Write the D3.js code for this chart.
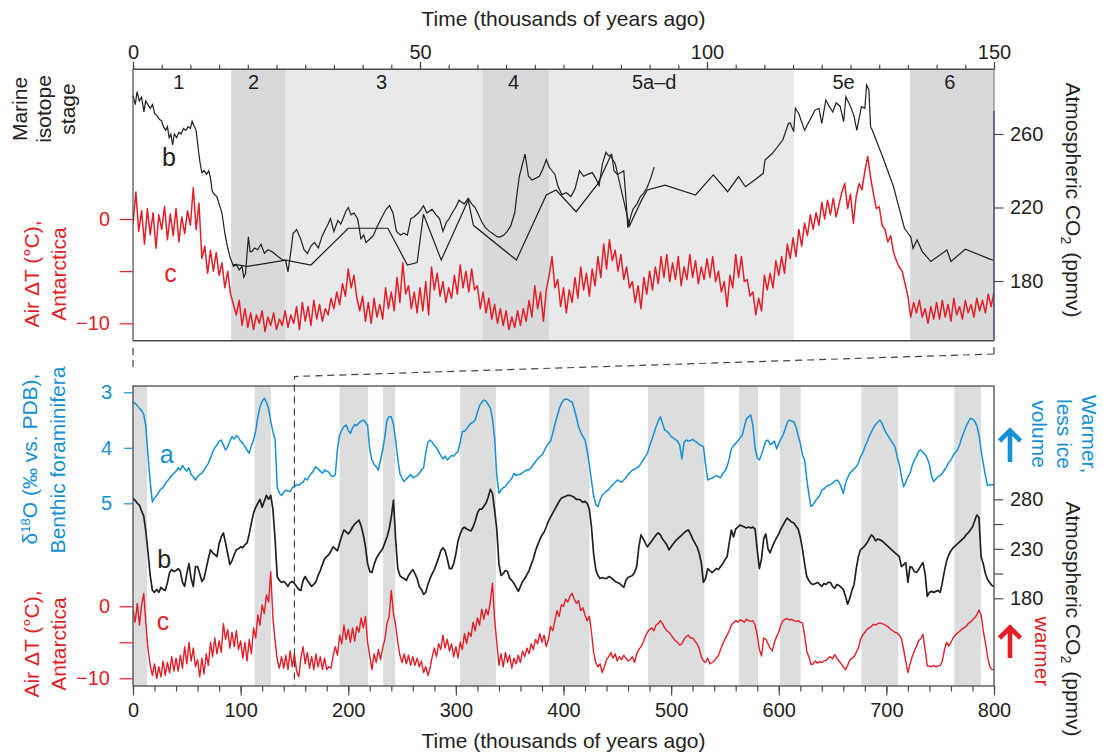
<!DOCTYPE html>
<html>
<head>
<meta charset="utf-8">
<script src="https://cdn.jsdelivr.net/npm/d3@7"></script>
<style>
  body { margin: 0; background: #fff; }
  text { font-family: "Liberation Sans", Arial, Helvetica, sans-serif; }
</style>
</head>
<body>
<div id="chart"></div>
<script>
"use strict";

// ---------- data ----------

// marine isotope stages, top panel (ka)
var stageNames = ["1", "2", "3", "4", "5a\u2013d", "5e", "6"];
var stageEdges = [0, 17.1, 26.6, 60.9, 72.5, 115.1, 135.4, 150];
var stageShade = ["none", "dark", "light", "dark", "light", "none", "dark"];
var stageLabelAge = [8, 21, 43.3, 66.3, 90.8, 123.8, 142.3];

// grey columns, bottom panel (ka)
var warmBands = [[0, 13], [113, 128.2], [191.9, 218.4], [232.4, 243.6], [304, 337.2],
  [386.6, 424.1], [478.5, 530.9], [563, 580.7], [601.2, 620.4], [676.8, 711], [763.1, 787.9]];

// top panel, c: Antarctic air temperature, every 0.5 ka from 0 to 150 ka
var tempRecentStep = 0.5;
var tempRecent = [
  -0.5, 2.6, -1.2, 0.8, -2.4, 1.0, -1.5, 0.6, -2.8, 0.4, -1.0, 1.2, -2.0, 0.5, -1.6, 1.0, -2.2, 0.2, -1.4, 0.8,
  -0.6, 3.0, -1.0, 1.5, -3.8, -2.6, -5.2, -3.0, -5.0, -3.2, -5.4, -4.2, -6.6, -5.0, -7.2, -8.2, -9.2, -7.8, -10.2, -8.6,
  -10.4, -9.0, -10.6, -9.2, -10.0, -8.8, -10.8, -9.4, -10.2, -9.0, -10.6, -9.6, -10.2, -8.8, -10.4, -9.2, -10.0, -8.4, -10.6, -8.0,
  -9.8, -8.4, -10.2, -7.8, -9.6, -8.2, -9.8, -8.6, -9.2, -7.6, -8.6, -7.0, -8.2, -6.2, -7.4, -4.8, -6.6, -5.4, -7.6, -8.8,
  -7.4, -9.8, -8.0, -10.0, -7.6, -9.4, -8.2, -9.6, -6.6, -8.6, -7.0, -8.8, -5.6, -8.0, -4.2, -7.2, -6.4, -8.6, -7.0, -9.0,
  -6.6, -8.8, -6.0, -9.2, -4.6, -6.8, -5.2, -7.4, -6.0, -8.0, -6.6, -7.6, -5.4, -7.2, -4.4, -6.6, -5.0, -7.0, -4.8, -6.8,
  -6.4, -8.6, -7.0, -9.0, -7.6, -9.6, -8.2, -10.0, -8.6, -10.2, -8.8, -10.6, -9.4, -10.4, -8.8, -10.2, -8.6, -9.8, -7.8, -9.4,
  -6.4, -8.6, -7.0, -9.8, -6.8, -5.4, -3.6, -6.6, -5.8, -8.4, -6.6, -9.0, -6.8, -8.0, -5.6, -7.6, -4.6, -6.8, -5.2, -7.4,
  -4.8, -6.4, -3.6, -5.6, -2.4, -4.8, -2.0, -4.0, -3.0, -5.0, -3.4, -5.8, -4.6, -6.6, -6.0, -8.0, -6.4, -8.6, -5.6, -7.2,
  -5.0, -6.8, -4.6, -6.2, -3.6, -5.6, -3.4, -6.0, -4.2, -5.8, -3.6, -6.4, -4.6, -5.8, -3.4, -5.6, -4.0, -6.2, -4.6, -5.8,
  -3.8, -5.6, -3.6, -6.0, -5.0, -7.0, -6.0, -8.4, -5.4, -6.6, -3.4, -5.6, -3.6, -6.0, -5.8, -7.4, -7.0, -9.2, -7.6, -8.8,
  -5.4, -6.8, -5.2, -6.6, -4.0, -5.4, -3.6, -5.2, -2.4, -3.8, -1.8, -3.6, -1.0, -2.6, -0.4, -1.6, 0.4, -1.0, 0.6, -0.6,
  1.6, 0.0, 1.8, 0.4, 2.0, 0.2, 1.4, 2.6, 3.4, 1.0, 2.4, -0.4, 2.2, 3.4, 2.8, 4.6, 6.0, 4.0, 2.4, 1.0,
  1.2, -0.6, -1.0, -2.2, -1.6, -3.2, -4.0, -4.6, -5.0, -6.2, -7.4, -9.4, -8.0, -9.0, -7.8, -9.4, -8.6, -10.0, -8.4, -9.6,
  -8.0, -9.6, -7.8, -9.4, -8.2, -9.8, -7.6, -9.2, -8.4, -9.6, -7.8, -9.0, -8.2, -9.4, -7.6, -8.8, -7.8, -9.0, -7.2, -8.4,
  -7.0
];

// top panel, b: CO2, detailed record [ka, ppmv]
var co2Detailed = [
  [0,281],[0.4,276],[0.7,283],[1.1,278],[1.5,280],[1.9,272],[2.2,278],[2.6,276],[3.0,274],[3.4,276],
  [3.8,271],[4.2,270],[4.6,268],[5.0,267],[5.3,264],[5.7,262],[6.0,264],[6.3,258],[6.6,260],[6.9,254],
  [7.2,260],[7.6,258],[8.0,261],[8.4,260],[8.8,263],[9.2,262],[9.6,264],[10.0,263],[10.3,267],[10.7,264],
  [11.0,262],[11.4,251],[11.7,244],[12.0,239],[12.4,240],[12.8,238],[13.2,240],[13.5,236],[13.8,229],[14.2,227],
  [14.6,226],[15.0,222],[15.5,217],[16.0,206],[16.5,198],[16.9,193],[17.5,188],[18.0,189],[18.5,186],[19.0,188],
  [19.3,182],[19.6,184],[20.1,204],[20.4,196],[20.7,196],[21.2,198],[21.7,197],[22.3,200],[22.9,195],[23.5,197],
  [24.2,196],[25.0,194],[25.8,192],[26.6,191],[27.0,185],[27.5,196],[27.9,206],[28.5,208],[29.2,203],[29.8,197],
  [30.4,195],[31.0,199],[31.6,201],[32.3,198],[32.9,204],[33.5,208],[34.0,211],[34.4,214],[35.0,207],[35.7,213],
  [36.2,211],[36.6,214],[37.1,218],[37.5,220],[38.0,216],[38.5,217],[39.1,214],[39.4,209],[39.7,203],[40.2,205],
  [40.6,201],[41.3,203],[41.9,205],[42.6,210],[43.4,215],[44.1,219],[44.7,221],[45.3,217],[45.9,207],[46.6,205],
  [47.2,206],[47.8,205],[48.4,214],[49.0,215],[49.7,217],[50.2,219],[50.6,221],[51.2,217],[52.1,219],[52.8,216],
  [53.4,214],[54.0,207],[54.6,212],[55.1,214],[55.6,217],[56.2,220],[56.8,224],[57.2,223],[57.7,222],[58.4,225],
  [59.0,222],[59.6,220],[60.2,216],[60.8,212],[61.4,209],[62.1,207],[62.6,206],[63.0,205],[63.5,204],[64.0,204],
  [64.6,205],[65.2,207],[65.8,210],[66.5,217],[66.8,225],[67.3,237],[67.8,243],[68.3,249],[68.6,243],[68.9,237],
  [69.5,235],[70.2,236],[70.8,237],[71.4,241],[72.0,246],[72.5,242],[73.0,240],[73.5,238],[74.0,232],[74.7,227],
  [75.5,228],[76.3,226],[77.0,230],[77.8,240],[78.5,237],[79.2,238],[80.0,239],[80.6,236],[81.2,232],[81.8,244],
  [82.4,250],[82.9,248],[83.4,249],[83.8,240],[84.4,238],[85.0,239],[85.5,240],[85.9,224],[86.2,209],[86.7,215],
  [87.1,219],[87.8,222],[88.4,226],[89.0,228],[89.6,231],[90.2,236],[90.8,242]
];

// top panel, b: CO2, coarse record [ka, ppmv]
var co2Coarse = [
  [17.5,189],[20,188],[26.6,191.4],[31,188.7],[37.5,208.7],[44.4,208.7],[47.8,188.7],[49.5,190],
  [50.6,216.3],[53.7,191.4],[58.4,224],[59.3,210.3],[66.8,191.4],[72,226.8],[73.7,229.5],[77.2,217.7],
  [81,233],[83.2,248],[84,244],[86.5,210],[88.6,224],[89.6,229.5],[92.7,232.2],[98,226.8],[101.1,237.7],
  [103.6,228.6],[105.5,236.8],[106.7,231.3],[108.3,235],[109.8,238.6],[110.1,245.8],[111.4,249.5],
  [113.2,256.7],[114.2,265.8],[114.5,266],[115.1,261.3],[115.4,274],[116,271],[117,262],[118.8,273],
  [119.5,274],[120,265.8],[120.7,278.5],[121.3,275],[121.9,272],[122.5,277],[123.2,275],[123.8,266.7],
  [124.2,280.3],[125,275],[125.6,270],[126.1,262],[126.9,274.9],[127.5,274],[127.8,286.7],[128.2,284],
  [128.5,264],[128.8,262],[130.6,247.6],[132.5,231.3],[133.1,224],[134.4,208.7],[135.5,204],[135.9,197.8],
  [136.6,202.3],[137.5,196],[139,190.6],[141.8,196.9],[142.5,190.6],[145,197.3],[149.4,191.8],[150,191]
];

// bottom panel series, every 2 ka from 0 to 800 ka
var longStep = 2;

// a: benthic d18O (per mil)
var d18O = [
  3.17, 3.20, 3.24, 3.29, 3.33, 3.40, 3.62, 4.15, 4.62, 4.98,
  4.90, 4.86, 4.80, 4.74, 4.72, 4.64, 4.60, 4.55, 4.50, 4.46,
  4.42, 4.36, 4.40, 4.32, 4.38, 4.42, 4.36, 4.48, 4.52, 4.58,
  4.52, 4.48, 4.46, 4.40, 4.34, 4.28, 4.18, 4.08, 4.00, 3.95,
  3.88, 3.86, 3.95, 4.04, 3.98, 3.88, 3.80, 3.84, 3.78, 3.82,
  3.88, 3.92, 3.98, 4.04, 4.10, 3.96, 3.86, 3.70, 3.44, 3.26,
  3.16, 3.11, 3.18, 3.30, 3.52, 3.71, 3.84, 4.70, 4.82, 4.86,
  4.80, 4.76, 4.78, 4.79, 4.72, 4.70, 4.66, 4.68, 4.64, 4.62,
  4.55, 4.58, 4.50, 4.46, 4.40, 4.34, 4.38, 4.42, 4.46, 4.40,
  4.42, 4.44, 4.50, 4.52, 4.48, 4.02, 3.77, 3.68, 3.62, 3.59,
  3.68, 3.74, 3.64, 3.58, 3.60, 3.55, 3.52, 3.50, 3.54, 3.60,
  4.04, 4.22, 4.30, 4.34, 4.40, 4.22, 4.04, 3.80, 3.50, 3.44,
  3.44, 3.58, 3.86, 4.20, 4.46, 4.55, 4.61, 4.56, 4.52, 4.48,
  4.54, 4.52, 4.50, 4.46, 4.40, 4.36, 4.10, 3.90, 3.86, 3.90,
  3.96, 4.00, 4.07, 4.14, 4.20, 4.15, 4.22, 4.18, 4.14, 4.15,
  4.10, 4.07, 3.90, 3.71, 3.70, 3.66, 3.60, 3.56, 3.54, 3.50,
  3.36, 3.24, 3.18, 3.14, 3.16, 3.22, 3.28, 3.48, 3.82, 4.50,
  4.82, 4.76, 4.72, 4.70, 4.64, 4.60, 4.55, 4.46, 4.50, 4.48,
  4.48, 4.45, 4.42, 4.40, 4.40, 4.36, 4.30, 4.25, 4.20, 4.16,
  4.13, 4.06, 3.98, 3.92, 3.88, 3.74, 3.58, 3.44, 3.30, 3.20,
  3.14, 3.12, 3.13, 3.16, 3.17, 3.30, 3.45, 3.62, 3.72, 3.80,
  3.86, 4.05, 4.30, 4.60, 4.86, 5.02, 5.06, 4.94, 4.85, 4.82,
  4.78, 4.75, 4.70, 4.66, 4.62, 4.58, 4.60, 4.62, 4.58, 4.54,
  4.48, 4.44, 4.40, 4.39, 4.36, 4.34, 4.28, 4.22, 4.16, 4.10,
  3.96, 3.86, 3.74, 3.62, 3.52, 3.44, 3.56, 3.68, 3.70, 3.74,
  3.80, 3.82, 3.85, 3.88, 3.95, 4.20, 3.90, 3.86, 3.88, 3.87,
  3.85, 3.88, 3.90, 3.94, 3.96, 3.98, 4.30, 4.58, 4.56, 4.55,
  4.52, 4.50, 4.52, 4.54, 4.46, 4.42, 4.34, 4.20, 4.02, 3.96,
  3.92, 3.88, 3.82, 3.78, 3.62, 3.48, 3.44, 3.41, 3.60, 4.00,
  4.18, 4.22, 4.12, 4.00, 3.88, 3.86, 3.94, 3.92, 3.88, 4.02,
  3.92, 3.84, 3.77, 3.66, 3.54, 3.50, 3.52, 3.53, 3.62, 3.78,
  3.92, 4.12, 4.22, 4.55, 4.85, 5.06, 5.02, 4.96, 4.91, 4.86,
  4.76, 4.74, 4.70, 4.68, 4.66, 4.64, 4.60, 4.58, 4.62, 4.70,
  4.82, 4.64, 4.54, 4.46, 4.42, 4.38, 4.34, 4.28, 4.16, 4.10,
  3.98, 3.90, 3.80, 3.72, 3.64, 3.58, 3.54, 3.50, 3.56, 3.66,
  3.74, 3.80, 3.86, 3.92, 3.98, 4.16, 4.30, 4.52, 4.70, 4.62,
  4.52, 4.46, 4.32, 4.22, 4.16, 4.06, 4.04, 4.08, 4.12, 4.19,
  4.30, 4.52, 4.61, 4.56, 4.52, 4.50, 4.46, 4.40, 4.34, 4.26,
  4.22, 4.14, 4.08, 4.04, 3.95, 3.82, 3.72, 3.62, 3.54, 3.47,
  3.48, 3.52, 3.60, 3.76, 4.04, 4.28, 4.50, 4.68, 4.67, 4.66,
  4.67
];

// b: atmospheric CO2 (ppmv)
var co2Long = [
  281, 279, 276, 274, 268, 263, 247, 226, 203, 188,
  186, 189, 186, 191, 189, 188, 196, 206, 209, 207,
  208, 210, 207, 196, 192, 205, 215, 200, 192, 212,
  212, 205, 197, 200, 210, 220, 229, 226, 224, 222,
  235, 242, 246, 236, 225, 214, 218, 224, 229, 230,
  232, 231, 234, 236, 245, 256, 266, 272, 276, 280,
  272, 278, 284, 280, 284, 270, 240, 202, 198, 196,
  197, 195, 192, 196, 197, 195, 192, 189, 188, 198,
  202, 198, 195, 192, 194, 197, 203, 208, 214, 220,
  222, 224, 228, 232, 230, 228, 236, 243, 249, 247,
  245, 248, 252, 255, 257, 259, 253, 244, 232, 215,
  207, 206, 214, 220, 224, 227, 230, 236, 242, 250,
  262, 279, 240, 210, 203, 201, 200, 198, 203, 206,
  209, 205, 200, 192, 189, 184, 186, 194, 200, 205,
  209, 215, 221, 228, 231, 228, 220, 210, 210, 215,
  225, 238, 245, 250, 252, 250, 249, 248, 252, 258,
  266, 270, 270, 273, 276, 282, 290, 286, 269, 250,
  215, 203, 205, 208, 207, 200, 198, 195, 191, 187,
  192, 197, 200, 204, 208, 214, 220, 228, 234, 239,
  244, 247, 252, 258, 262, 266, 270, 274, 278, 281,
  282, 283, 284, 284, 283, 282, 280, 280, 279, 277,
  278, 276, 270, 252, 225, 209, 203, 200, 201, 200,
  200, 202, 201, 199, 197, 196, 195, 193, 191, 198,
  201, 202, 203, 206, 212, 232, 244, 240, 236, 232,
  235, 238, 241, 244, 246, 244, 240, 237, 234, 229,
  232, 235, 238, 240, 242, 244, 246, 248, 249, 245,
  240, 236, 232, 226, 216, 196, 200, 210, 208, 206,
  208, 210, 209, 212, 215, 219, 222, 236, 249, 242,
  250, 252, 254, 253, 252, 251, 252, 251, 252, 250,
  229, 210, 220, 240, 245, 230, 226, 232, 237, 241,
  245, 250, 254, 258, 261, 259, 257, 256, 253, 250,
  242, 230, 215, 202, 198, 195, 194, 195, 196, 194,
  192, 195, 194, 196, 196, 192, 190, 194, 193, 191,
  189, 182, 174, 180, 188, 194, 210, 222, 229, 231,
  233, 236, 240, 244, 242, 238, 240, 239, 238, 236,
  234, 232, 230, 228, 226, 224, 222, 212, 214, 216,
  196, 212, 211, 207, 206, 209, 213, 216, 205, 182,
  186, 187, 186, 187, 188, 186, 196, 208, 218, 224,
  228, 231, 233, 235, 237, 239, 241, 244, 246, 249,
  252, 258, 264, 262, 222, 215, 205, 199, 196, 193,
  192
];

// c: Antarctic air temperature (deg C)
var tempLong = [
  -0.5, -2.2, 0.4, -2.6, 0.2, 1.8, -2.5, -6.0, -8.2, -9.6,
  -8.0, -10.0, -8.4, -9.8, -7.6, -9.6, -7.8, -9.2, -7.0, -9.0,
  -7.2, -9.0, -6.8, -8.6, -5.6, -8.0, -5.0, -7.6, -5.8, -8.4,
  -7.4, -9.8, -7.2, -9.4, -6.6, -8.2, -5.0, -7.0, -4.4, -6.6,
  -4.8, -6.4, -2.4, -4.6, -3.2, -5.8, -3.6, -5.6, -3.4, -6.0,
  -4.8, -7.2, -5.0, -7.6, -4.6, -6.6, -3.0, -4.4, -1.2, -2.6,
  0.2, -1.0, 1.6, 0.6, 4.8, -1.6, -4.8, -7.4, -8.6, -7.0,
  -8.6, -6.8, -8.8, -6.2, -8.4, -6.6, -9.0, -9.8, -7.2, -5.6,
  -8.0, -6.4, -8.6, -7.0, -8.8, -6.6, -8.4, -7.0, -8.8, -7.2,
  -8.8, -8.4, -8.6, -6.8, -5.6, -6.8, -4.0, -5.2, -2.6, -4.6,
  -3.2, -5.0, -3.0, -4.8, -2.8, -3.6, -1.6, -3.0, -1.4, -5.0,
  -6.9, -8.8, -6.6, -7.8, -6.0, -7.4, -5.8, -4.6, -2.4, -1.4,
  2.2, -1.0, -2.6, -5.0, -6.8, -7.8, -6.6, -8.0, -6.8, -8.2,
  -7.0, -8.2, -7.2, -8.4, -7.6, -9.2, -8.4, -9.6, -8.6, -7.0,
  -5.8, -7.0, -5.2, -6.0, -4.0, -5.8, -4.6, -6.2, -5.2, -7.0,
  -5.6, -7.2, -5.0, -6.0, -3.8, -5.2, -3.6, -4.2, -2.2, -3.4,
  -1.6, -2.6, -0.4, -1.8, -0.4, -1.2, 0.6, 3.2, -1.8, -5.0,
  -8.2, -6.6, -8.4, -6.4, -7.8, -6.8, -8.6, -7.2, -8.0, -6.8,
  -7.8, -6.2, -7.0, -5.8, -6.6, -5.2, -6.0, -4.6, -5.2, -3.8,
  -5.0, -4.0, -5.6, -4.6, -2.8, -3.4, -2.0, -0.6, -1.4, 0.2,
  0.0, 1.0, 0.6, 1.4, 1.8, 1.0, 0.4, 0.8, -0.6, -0.2,
  -1.2, -2.0, -1.4, -3.6, -6.4, -7.8, -8.4, -8.0, -9.2, -8.4,
  -7.4, -7.0, -6.4, -7.2, -6.6, -7.6, -7.0, -7.4, -6.8, -7.2,
  -7.6, -7.4, -7.0, -7.8, -6.6, -6.0, -5.6, -5.0, -4.2, -3.6,
  -3.2, -3.0, -3.4, -2.6, -2.4, -2.0, -2.4, -3.0, -3.4, -3.6,
  -4.0, -4.4, -4.8, -5.0, -5.4, -5.2, -4.6, -4.2, -4.0, -4.4,
  -4.4, -4.8, -5.2, -5.8, -7.0, -7.6, -7.8, -7.2, -8.0, -7.8,
  -7.6, -7.2, -6.8, -6.0, -5.2, -4.6, -4.0, -3.4, -2.6, -2.3,
  -2.0, -2.2, -1.9, -2.0, -2.2, -1.8, -2.0, -2.1, -2.0, -2.6,
  -4.0, -6.0, -6.9, -4.4, -4.6, -5.2, -5.8, -6.2, -5.0, -4.2,
  -3.6, -2.6, -2.0, -1.8, -1.7, -1.9, -1.8, -2.0, -2.1, -2.0,
  -2.2, -2.3, -4.0, -6.2, -7.0, -8.1, -8.0, -7.6, -7.9, -7.7,
  -7.8, -7.6, -7.5, -7.2, -7.0, -7.3, -6.7, -7.2, -7.6, -8.0,
  -8.4, -8.8, -8.2, -7.5, -7.2, -7.0, -6.4, -5.8, -4.6, -4.0,
  -3.6, -3.2, -3.0, -2.8, -2.5, -2.6, -2.4, -2.3, -2.4, -2.5,
  -2.7, -2.9, -3.2, -3.4, -3.6, -3.7, -4.0, -4.5, -6.0, -7.6,
  -9.2, -8.0, -7.0, -6.2, -5.5, -4.8, -4.5, -3.9, -6.0, -8.3,
  -8.3, -8.4, -8.2, -8.4, -8.3, -8.2, -7.6, -6.0, -5.0, -5.5,
  -5.0, -4.4, -4.0, -3.7, -3.5, -3.2, -3.0, -2.8, -2.4, -2.2,
  -1.9, -1.6, -1.2, -0.5, -1.2, -3.4, -5.0, -7.0, -8.3, -8.8,
  -8.8
];

// axis ticks
var timeTopMajor = [0, 50, 100, 150];
var timeBotMajor = [0, 100, 200, 300, 400, 500, 600, 700, 800];
var tempTicks = [0, -5, -10];
var tempTickLabels = [0, -10];
var co2TopTicks = [260, 220, 180];
var d18OTicks = [3, 4, 5];
var co2BotTicks = [280, 255, 230, 205, 180];
var co2BotLabels = [280, 230, 180];

// ---------- drawing ----------
var W = 1103, H = 756;
var red = "#e31e26", blue = "#1690d3", ink = "#231f20", axisGrey = "#4a4a4a";
var darkBand = "#d8d9db", lightBand = "#e8e9eb", bandBot = "#dcdddf";
var titleSize = 21;

var svg = d3.select("#chart").append("svg")
  .attr("width", W).attr("height", H)
  .style("display", "block");

var x0 = 133, x1 = 994;
var topY0 = 69.3, topY1 = 340.7;
var botY0 = 386, botY1 = 686;

// scales
var xTop = d3.scaleLinear().domain([0, 150]).range([x0, x1]);
var xBot = d3.scaleLinear().domain([0, 800]).range([x0, x1]);
var yTempTop = d3.scaleLinear().domain([-10, 0]).range([323.3, 219]);
var yCo2Top = d3.scaleLinear().domain([180, 260]).range([281, 134]);
var yD18O = d3.scaleLinear().domain([3, 5]).range([392.3, 503.3]);
var yCo2Bot = d3.scaleLinear().domain([180, 280]).range([598.3, 499.3]);
var yTempBot = d3.scaleLinear().domain([-10, 0]).range([678.3, 606.3]);

function fixAxis(g, color, size) {
  g.select(".domain").remove();
  g.selectAll(".tick line").attr("stroke", color).attr("stroke-width", 1.2);
  g.selectAll(".tick text").attr("fill", color).attr("font-size", size || 20)
    .attr("font-family", "Liberation Sans, Arial, sans-serif");
}

// ---- top panel ----
var topG = svg.append("g");

topG.selectAll("rect.stage")
  .data(stageNames)
  .enter().append("rect")
  .attr("x", function(d, i) { return xTop(stageEdges[i]); })
  .attr("width", function(d, i) { return xTop(stageEdges[i + 1]) - xTop(stageEdges[i]); })
  .attr("y", topY0).attr("height", topY1 - topY0)
  .attr("fill", function(d, i) {
    return stageShade[i] === "dark" ? darkBand : stageShade[i] === "light" ? lightBand : "none";
  });

topG.selectAll("text.stage")
  .data(stageNames)
  .enter().append("text")
  .attr("x", function(d, i) { return xTop(stageLabelAge[i]); })
  .attr("y", 89.3)
  .attr("text-anchor", "middle")
  .attr("font-size", 20).attr("fill", ink)
  .text(function(d) { return d; });

svg.append("clipPath").attr("id", "clipTop").append("rect")
  .attr("x", x0).attr("y", topY0).attr("width", x1 - x0).attr("height", topY1 - topY0);

var lineTempTop = d3.line()
  .x(function(d, i) { return xTop(i * tempRecentStep); })
  .y(function(d) { return yTempTop(d); });
var lineCo2Top = d3.line()
  .x(function(d) { return xTop(d[0]); })
  .y(function(d) { return yCo2Top(d[1]); });

topG.append("path").datum(tempRecent)
  .attr("d", lineTempTop).attr("fill", "none")
  .attr("stroke", red).attr("stroke-width", 1.5).attr("stroke-linejoin", "round")
  .attr("clip-path", "url(#clipTop)");
topG.append("path").datum(co2Coarse)
  .attr("d", lineCo2Top).attr("fill", "none")
  .attr("stroke", ink).attr("stroke-width", 1.2);
topG.append("path").datum(co2Detailed)
  .attr("d", lineCo2Top).attr("fill", "none")
  .attr("stroke", ink).attr("stroke-width", 1.2);

// top frame
topG.append("line").attr("x1", x0).attr("x2", x1).attr("y1", topY0).attr("y2", topY0)
  .attr("stroke", axisGrey).attr("stroke-width", 1.4);
topG.append("line").attr("x1", x0).attr("x2", x1).attr("y1", topY1).attr("y2", topY1)
  .attr("stroke", axisGrey).attr("stroke-width", 1.4);
topG.append("line").attr("x1", x0).attr("x2", x0).attr("y1", topY0).attr("y2", topY1)
  .attr("stroke", axisGrey).attr("stroke-width", 1.2);
topG.append("line").attr("x1", x1).attr("x2", x1).attr("y1", topY0).attr("y2", topY1)
  .attr("stroke", "#888").attr("stroke-width", 1.2);
topG.append("line").attr("x1", x1).attr("x2", x1).attr("y1", 111).attr("y2", topY1)
  .attr("stroke", "#33417a").attr("stroke-width", 1.2);

// top time axis
var gTopMinor = svg.append("g").attr("transform", "translate(0," + topY0 + ")")
  .call(d3.axisTop(xTop).tickValues(d3.range(0, 151, 5)).tickSize(4.5).tickFormat(""));
fixAxis(gTopMinor, axisGrey);
var gTopMajor = svg.append("g").attr("transform", "translate(0," + topY0 + ")")
  .call(d3.axisTop(xTop).tickValues(timeTopMajor).tickSize(7.5).tickPadding(3));
fixAxis(gTopMajor, ink);
gTopMajor.selectAll(".tick line").attr("stroke", axisGrey);
gTopMajor.selectAll(".tick text").attr("y", -10.3).attr("dy", 0);

// top left temperature axis
var gTempTop = svg.append("g").attr("transform", "translate(" + x0 + ",0)")
  .call(d3.axisLeft(yTempTop).tickValues(tempTicks).tickSize(13.5).tickPadding(9.5)
    .tickFormat(function(d) { return tempTickLabels.indexOf(d) >= 0 ? d3.format("d")(d) : ""; }));
fixAxis(gTempTop, red);

// top right CO2 axis
var gCo2Top = svg.append("g").attr("transform", "translate(" + x1 + ",0)")
  .call(d3.axisRight(yCo2Top).tickValues(co2TopTicks).tickSize(9.3).tickPadding(6.7));
fixAxis(gCo2Top, ink);
gCo2Top.selectAll(".tick line").attr("stroke", axisGrey);

// ---- bottom panel ----
var botG = svg.append("g");

botG.selectAll("rect.band")
  .data(warmBands)
  .enter().append("rect")
  .attr("x", function(d) { return xBot(d[0]); })
  .attr("width", function(d) { return xBot(d[1]) - xBot(d[0]); })
  .attr("y", botY0).attr("height", botY1 - botY0)
  .attr("fill", bandBot);

svg.append("clipPath").attr("id", "clipBot").append("rect")
  .attr("x", x0).attr("y", botY0).attr("width", x1 - x0).attr("height", botY1 - botY0);

function stepLine(y) {
  return d3.line()
    .x(function(d, i) { return xBot(i * longStep); })
    .y(function(d) { return y(d); });
}

botG.append("path").datum(d18O)
  .attr("d", stepLine(yD18O)).attr("fill", "none")
  .attr("stroke", blue).attr("stroke-width", 1.5).attr("stroke-linejoin", "round")
  .attr("clip-path", "url(#clipBot)");
botG.append("path").datum(co2Long)
  .attr("d", stepLine(yCo2Bot)).attr("fill", "none")
  .attr("stroke", ink).attr("stroke-width", 1.7).attr("stroke-linejoin", "round")
  .attr("clip-path", "url(#clipBot)");
botG.append("path").datum(tempLong)
  .attr("d", stepLine(yTempBot)).attr("fill", "none")
  .attr("stroke", red).attr("stroke-width", 1.4).attr("stroke-linejoin", "round")
  .attr("clip-path", "url(#clipBot)");

botG.append("rect").attr("x", x0).attr("y", botY0)
  .attr("width", x1 - x0).attr("height", botY1 - botY0)
  .attr("fill", "none").attr("stroke", axisGrey).attr("stroke-width", 1.3);

// bottom time axis
var gBotMinor = svg.append("g").attr("transform", "translate(0," + botY1 + ")")
  .call(d3.axisBottom(xBot).tickValues(d3.range(0, 801, 20)).tickSize(5.5).tickFormat(""));
fixAxis(gBotMinor, axisGrey);
var gBotMajor = svg.append("g").attr("transform", "translate(0," + botY1 + ")")
  .call(d3.axisBottom(xBot).tickValues(timeBotMajor).tickSize(9.5));
fixAxis(gBotMajor, ink);
gBotMajor.selectAll(".tick line").attr("stroke", axisGrey);
gBotMajor.selectAll(".tick text").attr("y", 31).attr("dy", 0);

// bottom left axes
var gD18O = svg.append("g").attr("transform", "translate(" + x0 + ",0)")
  .call(d3.axisLeft(yD18O).tickValues(d18OTicks).tickSize(9).tickPadding(12)
    .tickFormat(d3.format("d")));
fixAxis(gD18O, blue);
var gTempBot = svg.append("g").attr("transform", "translate(" + x0 + ",0)")
  .call(d3.axisLeft(yTempBot).tickValues(tempTicks).tickSize(13.5).tickPadding(9.5)
    .tickFormat(function(d) { return tempTickLabels.indexOf(d) >= 0 ? d3.format("d")(d) : ""; }));
fixAxis(gTempBot, red);

// bottom right CO2 axis
var gCo2Bot = svg.append("g").attr("transform", "translate(" + x1 + ",0)")
  .call(d3.axisRight(yCo2Bot).tickValues(co2BotTicks).tickSize(9.3).tickPadding(6.7)
    .tickFormat(function(d) { return co2BotLabels.indexOf(d) >= 0 ? d : ""; }));
fixAxis(gCo2Bot, ink);
gCo2Bot.selectAll(".tick line").attr("stroke", axisGrey);

// ---- dashed zoom guides ----
function dashed(pts) {
  svg.append("path").attr("d", d3.line()(pts))
    .attr("fill", "none").attr("stroke", "#444")
    .attr("stroke-width", 1.2).attr("stroke-dasharray", "7,5");
}
dashed([[xTop(0), 348], [xBot(0), 367]]);
dashed([[xTop(150), 347], [xTop(150), 355]]);
dashed([[xTop(150), 354], [xBot(150), 376.5], [xBot(150), botY1]]);

// ---- text labels ----
function label(txt, x, y, rot, color, size) {
  return svg.append("text")
    .attr("transform", "translate(" + x + "," + y + ") rotate(" + rot + ")")
    .attr("text-anchor", "middle")
    .attr("font-size", size || titleSize)
    .attr("fill", color || ink)
    .text(txt);
}

// axis titles
label("Time (thousands of years ago)", (x0 + x1) / 2, 26, 0);
label("Time (thousands of years ago)", (x0 + x1) / 2, 748, 0);

label("Marine", 26.5, 109, -90);
label("isotope", 50.5, 109, -90);
label("stage", 74.5, 109, -90);

label("Air \u0394T (\u00b0C),", 38.5, 274, -90, red);
label("Antarctica", 65.5, 274, -90, red);
label("Air \u0394T (\u00b0C),", 38.5, 644, -90, red);
label("Antarctica", 65.5, 644, -90, red);

var dLab = label("", 37, 459, -90, blue);
dLab.append("tspan").text("\u03b4");
dLab.append("tspan").attr("font-size", 13).attr("dy", -7).text("18");
dLab.append("tspan").attr("dy", 7).text("O (\u2030 vs. PDB),");
label("Benthic foraminifera", 64.5, 460, -90, blue);

function co2Title(y) {
  var t = label("", 1066, y, 90, ink);
  t.append("tspan").text("Atmospheric CO");
  t.append("tspan").attr("font-size", 14).attr("dy", 5).text("2");
  t.append("tspan").attr("dy", -5).attr("dx", 8).text("(ppmv)");
}
co2Title(200);
co2Title(619);

label("Warmer,", 1082, 434, 90, blue);
label("less ice", 1057, 434, 90, blue);
label("volume", 1032, 434, 90, blue);
label("warmer", 1035, 651.5, 90, red);

// arrows
function arrow(color, xc, yTip, yBase) {
  svg.append("path")
    .attr("d", "M" + xc + "," + yBase + "V" + (yTip + 2) +
      "M" + (xc - 10.5) + "," + (yTip + 11) + "L" + xc + "," + (yTip + 0.5) + "L" + (xc + 10.5) + "," + (yTip + 11))
    .attr("fill", "none").attr("stroke", color).attr("stroke-width", 4.6)
    .attr("stroke-linejoin", "miter").attr("stroke-linecap", "butt");
}
arrow(blue, 1010, 430, 462);
arrow(red, 1010, 627, 658);

// curve letters
label("b", 169, 165.7, 0, ink, 25);
label("c", 170.5, 281.7, 0, red, 25);
label("a", 166.7, 463.3, 0, blue, 25);
label("b", 164.3, 568.3, 0, ink, 25);
label("c", 163, 630, 0, red, 25);
</script>
</body>
</html>
